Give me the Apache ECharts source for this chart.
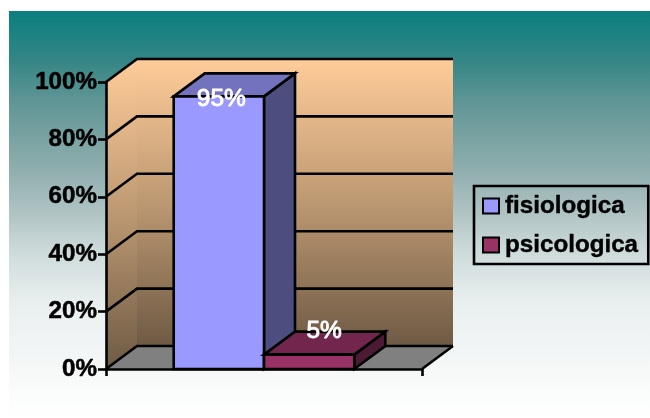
<!DOCTYPE html>
<html>
<head>
<meta charset="utf-8">
<style>html,body{margin:0;padding:0;background:#fff}#c{width:650px;height:418px}</style>
<script src="https://cdn.jsdelivr.net/npm/echarts@6/dist/echarts.min.js"></script>
</head>
<body>
<div id="c"></div>
<script>
const categories = [''];
const seriesNames = ['fisiologica', 'psicologica'];
const fisiologica = [95];
const psicologica = [5];
const yTicks = [0, 20, 40, 60, 80, 100];

// 3D look
const DX = 31, DY = -23, LW = 2.6, FONT = '"Liberation Sans", Arial, sans-serif';
const palette = [
  {front:'#9999FF', top:'#7272BF', side:'#4D4D80'},
  {front:'#993366', top:'#73264D', side:'#4D1A33'}
];
const labelShift = [{x:2.5, y:2.5}, {x:15, y:-23.5}];
const line = {stroke:'#000', lineWidth:LW};
const poly = (points, fill) => ({type:'polygon', shape:{points}, style:Object.assign({fill}, line)});
const back = p => [p[0]+DX, p[1]+DY];

function wallItem(params, api) {
  const x0 = api.coord([0, 0])[0] - api.size([1, 0])[0] / 2;
  const x1 = x0 + api.size([1, 0])[0];
  const y0 = api.coord([0, yTicks[0]])[1];
  const y1 = api.coord([0, yTicks[yTicks.length - 1]])[1];
  const wallGrad = {type:'linear', x:0, y:0, x2:0, y2:1, colorStops:[
    {offset:0, color:'#FFCC99'}, {offset:0.5, color:'#BC9872'}, {offset:1, color:'#6E5A44'}]};
  return {type:'group', children:[
    {type:'polygon', shape:{points:[back([x0,y1]), back([x1,y1]), back([x1,y0]), back([x0,y0])]}, style:{fill:wallGrad}},
    {type:'polygon', shape:{points:[[x0,y1], back([x0,y1]), back([x0,y0]), [x0,y0]]}, style:{fill:wallGrad}},
    {type:'polygon', shape:{points:[[x0,y0], back([x0,y0]), back([x1,y0]), [x1,y0]]}, style:{fill:'#808080'}},
    ...yTicks.map(t => {
      const y = api.coord([0, t])[1];
      return {type:'polyline', shape:{points:[[x0,y], back([x0,y]), back([x1,y])]}, style:Object.assign({fill:null}, line)};
    }),
    {type:'line', shape:{x1:x1, y1:y0, x2:x1+DX, y2:y0+DY}, style:line}
  ]};
}

function barItem(idx) {
  return function (params, api) {
    const band = api.size([1, 0])[0];
    const barW = band / (seriesNames.length + 1.5);
    const x0 = api.coord([0, 0])[0] - barW * seriesNames.length / 2 + barW * idx;
    const x1 = x0 + barW;
    const v = api.value(1);
    const yb = api.coord([0, 0])[1];
    const yt = api.coord([0, v])[1];
    const c = palette[idx];
    return {type:'group', children:[
      poly([[x1,yt], back([x1,yt]), back([x1,yb]), [x1,yb]], c.side),
      poly([[x0,yt], back([x0,yt]), back([x1,yt]), [x1,yt]], c.top),
      poly([[x0,yt], [x1,yt], [x1,yb], [x0,yb]], c.front),
      {type:'text', z2:100, style:{
        text:v + '%', x:(x0+x1)/2 + labelShift[idx].x, y:yt + labelShift[idx].y,
        fill:'#fff', font:'24.5px ' + FONT, textAlign:'center', textVerticalAlign:'middle',
        stroke:'#fff', lineWidth:0.9}}
    ]};
  };
}

const chart = echarts.init(document.getElementById('c'), null, {renderer:'canvas'});
chart.setOption({
  animation:false,
  backgroundColor:'#fff',
  graphic:[{type:'rect', z:-10, shape:{x:9, y:11, width:641, height:407},
    style:{fill:{type:'linear', x:0, y:0, x2:0, y2:1, colorStops:[
      {offset:0, color:'#0A7F7F'},
      {offset:0.12, color:'#348585'},
      {offset:0.22, color:'#5F9595'},
      {offset:0.39, color:'#90AEAE'},
      {offset:0.49, color:'#AEC2C2'},
      {offset:0.59, color:'#CDDADA'},
      {offset:0.71, color:'#E8EEEE'},
      {offset:0.88, color:'#F6F8F8'},
      {offset:1, color:'#FFFFFF'}]}}}],
  grid:{left:106, right:228, top:82, bottom:49, containLabel:false},
  xAxis:{type:'category', data:categories, z:10,
    axisLine:{lineStyle:{color:'#000', width:LW}},
    axisTick:{show:true, length:7, lineStyle:{color:'#000', width:LW}},
    axisLabel:{show:false}, splitLine:{show:false}},
  yAxis:{type:'value', min:0, max:100, interval:20, z:10,
    axisLine:{show:true, lineStyle:{color:'#000', width:LW}},
    axisTick:{show:true, length:8, lineStyle:{color:'#000', width:LW}},
    axisLabel:{margin:9, color:'#000', fontFamily:FONT, fontWeight:'bold', fontSize:24.2, formatter:'{value}%',
      textBorderColor:'#000', textBorderWidth:0.5, padding:[3,0,0,0]},
    splitLine:{show:false}},
  legend:{orient:'vertical', left:474, top:186, data:seriesNames.map(name => ({name, icon:'rect'})),
    borderColor:'#000', borderWidth:2.6, backgroundColor:'transparent', padding:[5,10,4,8],
    itemWidth:16, itemHeight:15, itemGap:9, selectedMode:false,
    textStyle:{color:'#000', fontFamily:FONT, fontWeight:'bold', fontSize:24.2,
      textBorderColor:'#000', textBorderWidth:0.4, padding:[2,0,0,1], lineHeight:28}},
  series:[
    {type:'custom', name:'_walls', data:[[0, 100]], renderItem:wallItem, silent:true, z:1, clip:false},
    {type:'custom', name:seriesNames[0], data:fisiologica.map((v,i)=>[i,v]), renderItem:barItem(0), z:3, clip:false,
      itemStyle:{color:palette[0].front, borderColor:'#000', borderWidth:2.6}},
    {type:'custom', name:seriesNames[1], data:psicologica.map((v,i)=>[i,v]), renderItem:barItem(1), z:3, clip:false,
      itemStyle:{color:palette[1].front, borderColor:'#000', borderWidth:2.6}}
  ]
});
</script>
</body>
</html>
